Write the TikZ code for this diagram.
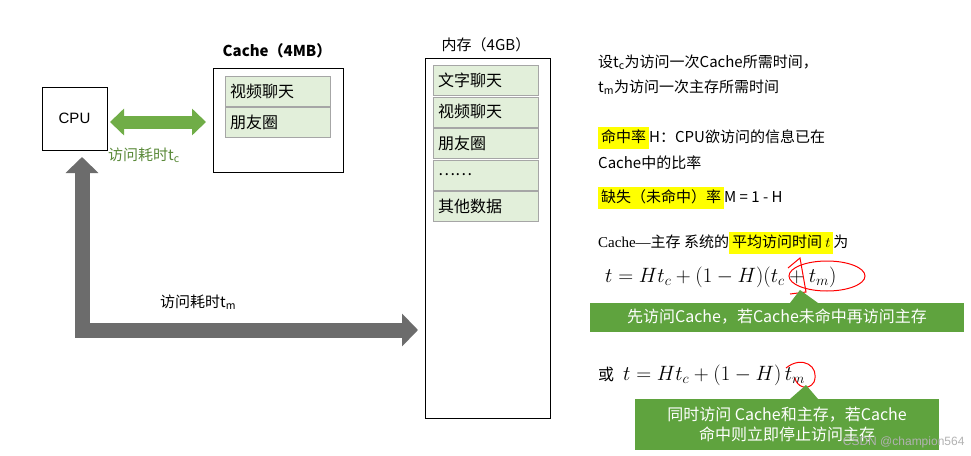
\documentclass[tikz,border=0pt]{standalone}
\usepackage{fontspec}
\setmainfont{Liberation Sans}
\newfontfamily\cjk{Noto Sans CJK SC}
\usetikzlibrary{arrows.meta,shapes.geometric,shapes.callouts}
\definecolor{gr}{HTML}{70AD47}
\definecolor{cell}{HTML}{E2EFDA}
\definecolor{callg}{HTML}{5FA33E}
\definecolor{hl}{HTML}{FFFF00}
\tikzset{
 cellbox/.style={draw=gray!70,fill=cell,minimum width=105pt,minimum height=30pt,inner sep=0pt,font=\cjk\fontsize{16}{16}\selectfont,anchor=north west,text width=95pt,align=left},
 txt/.style={anchor=west,inner sep=0pt,font=\cjk\fontsize{15}{18}\selectfont},
 callout/.style={fill=callg,draw=white,text=white,font=\cjk\fontsize{16}{20}\selectfont,align=center,inner sep=0pt}
}
\begin{document}
\begin{tikzpicture}[x=1pt,y=-1pt]
\useasboundingbox[fill=white] (0,0) rectangle (971,455);
% CPU
\node[draw,minimum width=65pt,minimum height=63pt,font=\fontsize{15}{16}\selectfont] (cpu) at (74.5,118.5) {CPU};
% green double arrow
\coordinate (ga) at (110,122); \coordinate (gb) at (206,122);
\draw[line width=13pt,gr,{Triangle[length=14pt,width=26pt]}-{Triangle[length=14pt,width=26pt]}] (ga) -- (gb);
\node[txt,text=gr!80!black] (lc) at (108,155) {访问耗时t\textsubscript{c}};
% cache
\node[font=\cjk\bfseries\fontsize{15}{16}\selectfont] (cl) at (277,51) {Cache（4MB）};
\node[draw,minimum width=130pt,minimum height=104pt,anchor=north west] (cache) at (213,68) {};
\node[cellbox] (c1) at (225,76) {视频聊天};
\node[cellbox] (c2) at (225,107) {朋友圈};
% memory
\node[font=\cjk\fontsize{15}{16}\selectfont] (ml) at (486,45) {内存（4GB）};
\node[draw,minimum width=125pt,minimum height=360pt,anchor=north west] (mem) at (425,58) {};
\node[cellbox] (m1) at (433,65) {文字聊天};
\node[cellbox] (m2) at (433,96.5) {视频聊天};
\node[cellbox] (m3) at (433,128) {朋友圈};
\node[cellbox] (m4) at (433,159.5) {……};
\node[cellbox] (m5) at (433,191) {其他数据};
% gray arrow
\coordinate (gt) at (82,157); \coordinate (gc) at (82,330); \coordinate (gr2) at (418,330);
\draw[line width=15pt,gray!85!black,{Triangle[length=16pt,width=32pt]}-{Triangle[length=16pt,width=32pt]}] (gt) -- (gc) -- (gr2);
\node[txt] (lm) at (160,302) {访问耗时t\textsubscript{m}};
% right text
\node[txt] (r1) at (598,62) {设t\textsubscript{c}为访问一次Cache所需时间，};
\node[txt] (r2) at (598,87) {t\textsubscript{m}为访问一次主存所需时间};
\node[txt] (r3) at (598,138) {\colorbox{hl}{\rule[-3pt]{0pt}{14pt}命中率}H：CPU欲访问的信息已在};
\node[txt] (r4) at (598,163) {Cache中的比率};
\node[txt] (r5) at (598,198) {\colorbox{hl}{\rule[-3pt]{0pt}{14pt}缺失（未命中）率}M = 1 - H};
\node[txt] (r6) at (598,243) {\fontspec{Liberation Serif}Cache—\cjk 主存 系统的\colorbox{hl}{\rule[-3pt]{0pt}{14pt}平均访问时间 $t$}为};
\node[txt,font=\fontsize{20}{22}\selectfont] (f1) at (605,277) {$t = Ht_c + (1-H)(t_c + t_m)$};
\draw[red,line width=1pt] (827,276) ellipse (38pt and 15pt);
\draw[red,line width=1pt] (788,268) -- (800,258) -- (806,292) -- (790,294);
% callout 1
\node[callout,minimum width=375pt,minimum height=30pt] (co1) at (777,317) {先访问Cache，若Cache未命中再访问主存};
\fill[callg] (790,303) -- (800,290) -- (818,303) -- cycle;
\node[txt,font=\cjk\fontsize{20}{22}\selectfont] (f2) at (598,375) {{\fontsize{16}{18}\selectfont 或} \ $t = Ht_c + (1-H)\,t_m$};
\draw[red,line width=1pt] (786,368) .. controls (802,355) and (820,366) .. (814,382) .. controls (808,392) and (796,386) .. (795,378);
% callout 2
\node[callout,minimum width=305pt,minimum height=52pt] (co2) at (787,424) {同时访问 Cache和主存，若Cache\\命中则立即停止访问主存};
\fill[callg] (790,399) -- (806,385) -- (818,399) -- cycle;
\node[anchor=south east,font=\fontsize{12}{12}\selectfont,text=gray!60] (wm) at (968,452) {CSDN @champion564};
\end{tikzpicture}
\end{document}
